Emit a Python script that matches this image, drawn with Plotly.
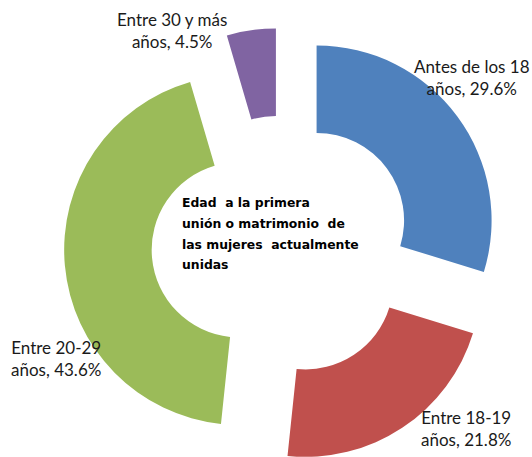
import math
import plotly.graph_objects as go

# ---- data ----
categories = ["Antes de los 18 años", "Entre 18-19 años", "Entre 20-29 años", "Entre 30 y más años"]
label_line1 = ["Antes de los 18", "Entre 18-19", "Entre 20-29", "Entre 30 y más"]
label_line2 = ["años", "años", "años", "años"]
values = [29.6, 21.8, 43.6, 4.5]
colors = ["#4F81BD", "#C0504D", "#9BBB59", "#8064A2"]
center_lines = ["Edad\u00a0 a la primera", "unión o matrimonio\u00a0 de",
                "las mujeres\u00a0 actualmente", "unidas"]

# ---- layout geometry (pixels) ----
W, H = 532, 457
CX, CY = 282.0, 246.0      # centre of the un-exploded donut
R = 175.0                  # outer radius
PULL = 43.0                # explosion distance

# label positions (pixel centres)
label_pos = [(472, 78), (466, 428), (56, 358), (172, 31)]

fig = go.Figure()
total = sum(values)
cum = 0.0
for i, v in enumerate(values):
    theta = math.radians(360.0 * (cum + v / 2.0) / total)  # clockwise from top
    cum += v
    px = CX + PULL * math.sin(theta)
    py = CY - PULL * math.cos(theta)
    dom_x = [max(0.0, (px - R) / W), min(1.0, (px + R) / W)]
    dom_y = [max(0.0, 1 - (py + R) / H), min(1.0, 1 - (py - R) / H)]
    cols = [c if j == i else "rgba(0,0,0,0)" for j, c in enumerate(colors)]
    fig.add_trace(go.Pie(
        labels=categories, values=values, sort=False, direction="clockwise",
        rotation=0, hole=0.5, textinfo="none", showlegend=False,
        marker=dict(colors=cols, line=dict(width=0)),
        domain=dict(x=dom_x, y=dom_y), hoverinfo="label+percent",
    ))

for i in range(len(values)):
    x, y = label_pos[i]
    fig.add_annotation(
        x=x / W, y=1 - y / H, xref="paper", yref="paper",
        text=f"{label_line1[i]}<br>{label_line2[i]}, {values[i]:.1f}%",
        showarrow=False, xanchor="center", yanchor="middle", align="center",
        font=dict(family="Lato", size=17, color="#1a1a1a"),
    )

for k, line in enumerate(center_lines):
    y = 203 + 20.5 * k
    fig.add_annotation(
        x=180 / W, y=1 - y / H, xref="paper", yref="paper",
        text=f"<b>{line}</b>", showarrow=False, xanchor="left", yanchor="middle",
        align="left", font=dict(family="DejaVu Sans", size=12.4, color="#000000"),
    )

fig.update_layout(
    width=W, height=H, margin=dict(l=0, r=0, t=0, b=0),
    paper_bgcolor="white", plot_bgcolor="white", showlegend=False,
)

fig.write_html(
    "out.html",
    config={"displayModeBar": False},
    post_script="document.body.style.margin='0';document.body.style.overflow='hidden';",
)
